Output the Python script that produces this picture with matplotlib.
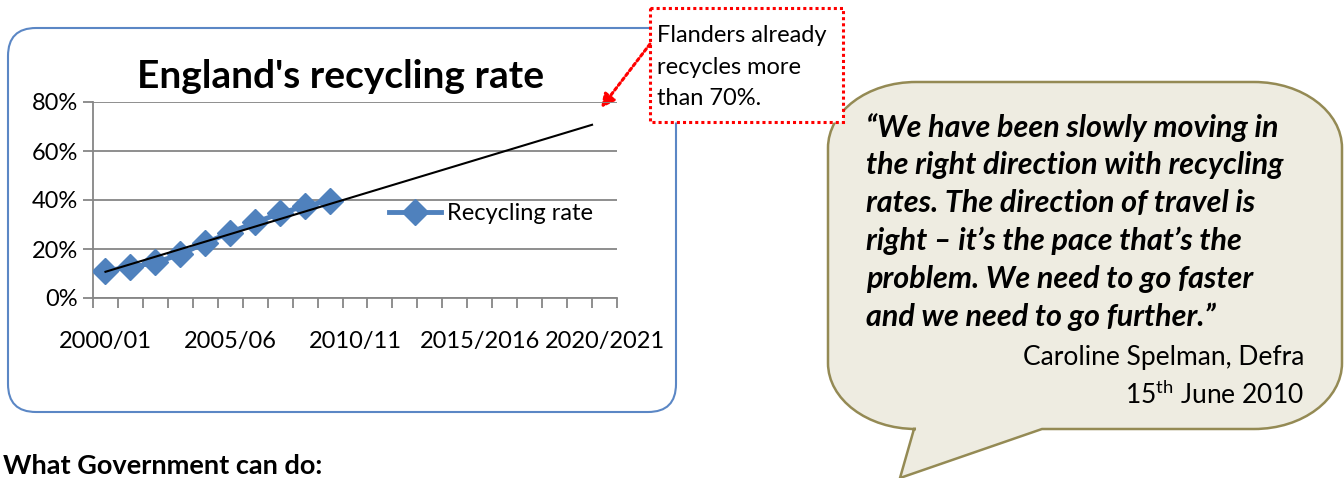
import matplotlib
matplotlib.use("Agg")
import matplotlib.pyplot as plt
import matplotlib.patches as ptc
from matplotlib.path import Path
from matplotlib.ticker import PercentFormatter

# data
years = ["2000/01", "2001/02", "2002/03", "2003/04", "2004/05", "2005/06", "2006/07",
         "2007/08", "2008/09", "2009/10", "2010/11", "2011/12", "2012/13", "2013/14",
         "2014/15", "2015/2016", "2016/17", "2017/18", "2018/19", "2019/20", "2020/2021"]
recycling_rate = [11.2, 12.5, 14.5, 17.8, 22.5, 26.7, 30.9, 34.5, 37.6, 39.7]
# linear trend, given as (period index, rate)
trend_period = [0, 19.5]
trend_rate = [10.7, 70.7]
shown_labels = ["2000/01", "2005/06", "2010/11", "2015/2016", "2020/2021"]
y_ticks = [0, 20, 40, 60, 80]

title = "England's recycling rate"
callout = "Flanders already\nrecycles more\nthan 70%."
quote = ("\u201cWe have been slowly moving in\n"
         "the right direction with recycling\n"
         "rates. The direction of travel is\n"
         "right \u2013 it\u2019s the pace that\u2019s the\n"
         "problem. We need to go faster\n"
         "and we need to go further.\u201d")
speaker = "Caroline Spelman, Defra"
bottom_text = "What Government can do:"

plt.rcParams['font.family'] = ['Lato', 'DejaVu Sans']

W, H = 1344, 478
fig = plt.figure(figsize=(W / 100, H / 100), dpi=100)

# background layer in pixel coordinates
bg = fig.add_axes([0, 0, 1, 1])
bg.set_xlim(0, W)
bg.set_ylim(H, 0)
bg.axis('off')

# chart frame
frame = ptc.FancyBboxPatch((8, 28), 668, 384, boxstyle="round,pad=0,rounding_size=28",
                           fc="white", ec="#5b87c5", lw=1.5)
bg.add_patch(frame)

# speech bubble (rounded rect with elliptical corners + tail)
bx0, by0, bx1, by1 = 828, 82, 1342, 429
rx, ry = 88, 66
k = 0.5523
verts = [(bx0 + rx, by0), (bx1 - rx, by0),
         (bx1 - rx + k * rx, by0), (bx1, by0 + ry - k * ry), (bx1, by0 + ry),
         (bx1, by1 - ry),
         (bx1, by1 - ry + k * ry), (bx1 - rx + k * rx, by1), (bx1 - rx, by1),
         (1042, by1), (900, 478), (914, by1),
         (bx0 + rx, by1),
         (bx0 + rx - k * rx, by1), (bx0, by1 - ry + k * ry), (bx0, by1 - ry),
         (bx0, by0 + ry),
         (bx0, by0 + ry - k * ry), (bx0 + rx - k * rx, by0), (bx0 + rx, by0),
         (bx0 + rx, by0)]
codes = ([Path.MOVETO, Path.LINETO] + [Path.CURVE4] * 3 + [Path.LINETO]
         + [Path.CURVE4] * 3 + [Path.LINETO] * 4 + [Path.CURVE4] * 3
         + [Path.LINETO] + [Path.CURVE4] * 3 + [Path.CLOSEPOLY])
bubble = ptc.PathPatch(Path(verts, codes), fc="#eeece1", ec="#948a54", lw=1.8, zorder=2)
bg.add_patch(bubble)

bg.text(866, 222, quote, fontsize=22, fontweight="bold", fontstyle="italic",
        va="center", ha="left", linespacing=1.42, zorder=3)
bg.text(1304, 358, speaker, fontsize=19, ha="right", va="center", zorder=3)
bg.text(1304, 395, r"15$^{\mathregular{th}}$ June 2010", fontsize=19, ha="right",
        va="center", zorder=3)

# callout box
bg.add_patch(ptc.Rectangle((650, 8), 193, 114, fc="white", ec="red", lw=2.2,
                           ls=(0, (1, 1)), zorder=4))
bg.text(657, 67, callout, fontsize=17, va="center", ha="left", linespacing=1.6, zorder=5)
bg.annotate("", xy=(601, 108), xytext=(650, 44), zorder=5,
            arrowprops=dict(arrowstyle="-|>,head_length=0.8,head_width=0.4", color="red",
                            lw=2.2, ls=(0, (1, 1)), shrinkA=0, shrinkB=0))

bg.text(3, 466, bottom_text, fontsize=19.5, fontweight="bold", va="center", ha="left")

# chart axes
ax = fig.add_axes([93 / W, (H - 298) / H, (617 - 93) / W, (298 - 102) / H])
ax.patch.set_alpha(0)
xpos = {y: i for i, y in enumerate(years)}
ax.plot([xpos[y] for y in years[:len(recycling_rate)]], recycling_rate, color="#4f81bd",
        lw=3.5, marker="D", ms=13, label="Recycling rate", zorder=3)
ax.plot(trend_period, trend_rate, color="black", lw=1.5, zorder=4)

ax.set_xlim(-0.5, len(years) - 0.5)
ax.set_ylim(0, 80)
ax.set_yticks(y_ticks)
ax.yaxis.set_major_formatter(PercentFormatter(decimals=0))
ax.set_xticks([xpos[y] for y in shown_labels])
ax.set_xticklabels(shown_labels)
ax.set_xticks([i - 0.5 for i in range(len(years) + 1)], minor=True)
ax.tick_params(axis="x", which="major", length=0, pad=24, labelsize=17)
ax.tick_params(axis="x", which="minor", length=7, color="#868686", width=1.3)
ax.tick_params(axis="y", length=7, color="#868686", width=1.3, labelsize=17, pad=4)
ax.grid(axis="y", color="#868686", lw=1.3)
ax.set_axisbelow(True)
for s in ["top", "right"]:
    ax.spines[s].set_visible(False)
for s in ["left", "bottom"]:
    ax.spines[s].set_color("#868686")
    ax.spines[s].set_linewidth(1.3)

ax.legend(loc="center left", bbox_to_anchor=(0.525, 0.43), frameon=False, fontsize=17,
          handlelength=2.2, handletextpad=0.25)

bg.text(341, 76, title, fontsize=28, fontweight="bold", ha="center", va="center")

fig.savefig("out.png", dpi=100)
